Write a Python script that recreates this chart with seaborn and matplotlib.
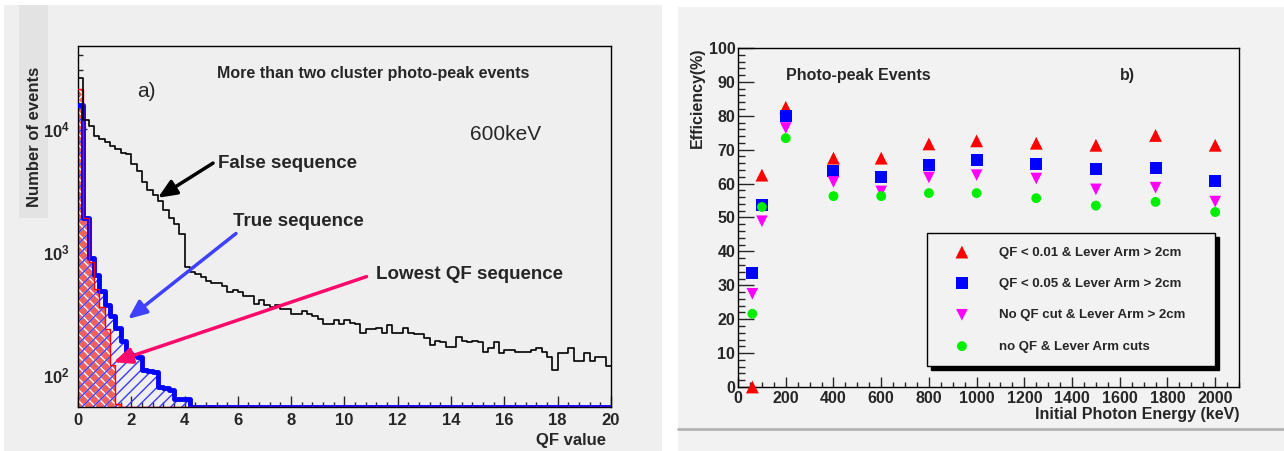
"""
QF distributions (a) and photo-peak efficiency (b)
"""

# Import libraries
import numpy as np
import pandas as pd
import seaborn as sns
import matplotlib as mpl
import matplotlib.pyplot as plt
from matplotlib.patches import Rectangle
from matplotlib.lines import Line2D
from matplotlib.ticker import (FixedLocator, FixedFormatter, LogLocator,
                               MultipleLocator, NullFormatter)

# -------------------------
# Configuration
# -------------------------
sns.set_style("ticks")
mpl.rcParams['font.family'] = ['Liberation Sans', 'DejaVu Sans']
mpl.rcParams['font.weight'] = 'bold'
mpl.rcParams['axes.labelweight'] = 'bold'
mpl.rcParams['mathtext.fontset'] = 'custom'
mpl.rcParams['mathtext.rm'] = 'Liberation Sans'
mpl.rcParams['mathtext.bf'] = 'Liberation Sans:bold'
mpl.rcParams['hatch.linewidth'] = 1.0

# -------------------------
# Data (a): QF value histograms, bins of 0.2 from 0 to 20
# -------------------------
qf_edges = np.linspace(0, 20, 101)
qf_centers = qf_edges[:-1] + 0.1

false_seq = [25700, 11700, 10500, 8700, 8300, 7800, 7200, 6800, 6300, 6200,
             5200, 4500, 3700, 3200, 2900, 2600, 2200, 1900, 1700, 1400,
             760, 690, 660, 630, 575, 560, 560, 525, 470, 490,
             470, 440, 440, 380, 410, 370, 355, 370, 345, 345,
             315, 315, 330, 315, 300, 285, 260, 260, 280, 260,
             280, 265, 260, 220, 235, 235, 240, 220, 255, 220,
             220, 240, 220, 215, 215, 200, 175, 190, 185, 170,
             170, 205, 190, 185, 190, 185, 155, 165, 185, 150,
             160, 160, 155, 155, 155, 160, 165, 155, 140, 110,
             150, 150, 165, 130, 130, 150, 130, 140, 140, 118]
true_seq = [15500, 1900, 900, 650, 480, 370, 300, 240, 190, 150,
            145, 140, 110, 108, 105, 80, 78, 76, 64, 64, 64] + [0] * 79
lowest_qf = [21000, 1900, 820, 500, 360, 235, 120, 58] + [0] * 92

decade_ticks = [100, 1000, 10000]
decade_labels = [r'$\mathbf{10^{2}}$', r'$\mathbf{10^{3}}$', r'$\mathbf{10^{4}}$']

# -------------------------
# Data (b): efficiency vs initial photon energy
# -------------------------
energy_kev = [60, 100, 200, 400, 600, 800, 1000, 1250, 1500, 1750, 2000]
eff_qf001 = [0.0, 62.5, 82.5, 67.5, 67.5, 71.7, 72.6, 71.9, 71.3, 74.2, 71.3]
eff_qf005 = [33.5, 53.6, 80.0, 63.6, 62.0, 65.5, 66.9, 65.9, 64.2, 64.5, 60.8]
eff_noqf = [27.5, 48.9, 76.4, 60.5, 57.7, 61.8, 62.5, 61.5, 58.3, 58.8, 54.7]
eff_nocut = [21.6, 53.1, 73.4, 56.3, 56.3, 57.2, 57.2, 55.7, 53.5, 54.6, 51.6]
series_labels = ['QF < 0.01 & Lever Arm > 2cm',
                 'QF < 0.05 & Lever Arm > 2cm',
                 'No QF cut & Lever Arm > 2cm',
                 'no QF & Lever Arm cuts']

# -------------------------
# Figure
# -------------------------
fig = plt.figure(figsize=(12.84, 4.51), dpi=100)
fig.patch.set_facecolor('white')

# Panel backgrounds (ROOT canvases)
fig.patches.append(Rectangle((0.0031, 0.0), 0.5125, 0.989, transform=fig.transFigure,
                             facecolor='#efefef', edgecolor='none', zorder=-3))
fig.patches.append(Rectangle((0.0148, 0.5166), 0.0226, 0.472, transform=fig.transFigure,
                             facecolor='#e3e3e3', edgecolor='none', zorder=-2))
fig.patches.append(Rectangle((0.528, 0.0), 0.472, 0.9845, transform=fig.transFigure,
                             facecolor='#f2f2f2', edgecolor='none', zorder=-3))
fig.lines.append(Line2D([0.528, 1.0], [0.0488, 0.0488], transform=fig.transFigure,
                        color='#b4b4b4', lw=2, zorder=-1))

ax1 = fig.add_axes([0.0607, 0.0976, 0.4151, 0.8004], zorder=1)
ax2 = fig.add_axes([0.5748, 0.1419, 0.3902, 0.7517], zorder=1)

# -------------------------
# Panel a)
# -------------------------
y_floor = 55
ax1.set_facecolor('#efefef')

hist = pd.DataFrame({'qf': qf_centers,
                     'false_seq': false_seq,
                     'true_seq': np.clip(true_seq, y_floor, None),
                     'lowest_qf': np.clip(lowest_qf, y_floor, None)})
bin_list = list(qf_edges)

# Filled areas: red/white check for lowest QF, blue diagonal hatch for true
ax1.stairs(hist['lowest_qf'], qf_edges, baseline=y_floor, fill=True,
           facecolor='#f0605c', edgecolor='none', zorder=1)
ax1.stairs(hist['lowest_qf'], qf_edges, baseline=y_floor, fill=True,
           facecolor='none', edgecolor='white', hatch='xxx', linewidth=0, zorder=1.5)
ax1.stairs(hist['true_seq'], qf_edges, baseline=y_floor, fill=True,
           facecolor='none', edgecolor='#3a3aff', hatch='///', linewidth=0, zorder=2)

# Outlines
sns.histplot(data=hist, x='qf', weights='true_seq', bins=bin_list, element='step',
             fill=False, color='#0000ff', linewidth=3.5, ax=ax1, zorder=3)
sns.histplot(data=hist, x='qf', weights='lowest_qf', bins=bin_list, element='step',
             fill=False, color='#ff0000', linewidth=1.0, ax=ax1, zorder=4)
sns.histplot(data=hist, x='qf', weights='false_seq', bins=bin_list, element='step',
             fill=False, color='black', linewidth=1.2, ax=ax1, zorder=5)

ax1.set_yscale('log')
ax1.set_xlim(0, 20)
ax1.set_ylim(y_floor, 47000)
ax1.xaxis.set_major_locator(MultipleLocator(2))
ax1.xaxis.set_minor_locator(MultipleLocator(0.4))
ax1.yaxis.set_major_locator(FixedLocator(decade_ticks))
ax1.yaxis.set_major_formatter(FixedFormatter(decade_labels))
ax1.yaxis.set_minor_locator(LogLocator(base=10, subs=np.arange(2, 10)))
ax1.yaxis.set_minor_formatter(NullFormatter())
ax1.tick_params(axis='x', which='major', direction='in', length=8, width=1,
                labelsize=12, pad=4)
ax1.tick_params(axis='x', which='minor', direction='in', length=3.6, width=1)
ax1.tick_params(axis='y', which='major', direction='in', length=6.5, width=1,
                labelsize=12, pad=6)
ax1.tick_params(axis='y', which='minor', direction='in', length=3.6, width=1)
for s in ax1.spines.values():
    s.set_color('black')
    s.set_linewidth(1)

ax1.set_xlabel('QF value', fontsize=12, loc='right')
ax1.xaxis.set_label_coords(0.9906, -0.072)
ax1.set_ylabel('Number of events', fontsize=12)
ax1.yaxis.set_label_coords(-0.0675, 0.748)

# Texts and arrows
ax1.text(2.58, 20000, 'a)', fontsize=15, fontweight='normal', ha='center', va='center')
ax1.text(5.2, 28000, 'More than two cluster photo-peak events', fontsize=11.5,
         ha='left', va='center')
ax1.text(14.7, 8900, '600keV', fontsize=15, fontweight='normal', ha='left', va='center')
ax1.text(5.27, 5260, 'False sequence', fontsize=13.5, ha='left', va='center')
ax1.text(5.81, 1770, 'True sequence', fontsize=13.5, ha='left', va='center')
ax1.text(11.2, 650, 'Lowest QF sequence', fontsize=13.5, ha='left', va='center')

arrow_style = '-|>,head_length=0.7,head_width=0.3'
ax1.annotate('', xy=(3.0, 2750), xytext=(5.07, 5260),
             arrowprops=dict(arrowstyle=arrow_style, color='black', lw=2.5,
                             shrinkA=0, shrinkB=0, mutation_scale=16), zorder=6)
ax1.annotate('', xy=(1.88, 285), xytext=(5.93, 1410),
             arrowprops=dict(arrowstyle=arrow_style, color='#4040ff', lw=2.5,
                             shrinkA=0, shrinkB=0, mutation_scale=16), zorder=6)
ax1.annotate('', xy=(1.33, 127), xytext=(10.83, 630),
             arrowprops=dict(arrowstyle=arrow_style, color='#ff0a6a', lw=2.5,
                             shrinkA=0, shrinkB=0, mutation_scale=16), zorder=6)

# -------------------------
# Panel b)
# -------------------------
ax2.set_facecolor('#f2f2f2')
styles = [(eff_qf001, '^', '#ff0000', 85),
          (eff_qf005, 's', '#0000ff', 75),
          (eff_noqf, 'v', '#ff00ff', 70),
          (eff_nocut, 'o', '#00ee00', 50)]
for (vals, mk, col, size), lab in zip(styles, series_labels):
    sns.scatterplot(x=energy_kev, y=vals, marker=mk, color=col, s=size,
                    edgecolor='none', label=lab, ax=ax2, clip_on=False, zorder=3)

ax2.set_xlim(0, 2100)
ax2.set_ylim(0, 100)
ax2.xaxis.set_major_locator(MultipleLocator(200))
ax2.xaxis.set_minor_locator(MultipleLocator(50))
ax2.yaxis.set_major_locator(MultipleLocator(10))
ax2.yaxis.set_minor_locator(MultipleLocator(2))
ax2.tick_params(axis='x', which='major', direction='in', length=7, width=1,
                labelsize=11.5, pad=3)
ax2.tick_params(axis='x', which='minor', direction='in', length=3.6, width=1)
ax2.tick_params(axis='y', which='major', direction='in', length=11.5, width=1,
                labelsize=11.5, pad=2)
ax2.tick_params(axis='y', which='minor', direction='in', length=5, width=1)
for s in ax2.spines.values():
    s.set_color('black')
    s.set_linewidth(1)

ax2.set_xlabel('Initial Photon Energy (keV)', fontsize=11.5, loc='right')
ax2.xaxis.set_label_coords(1.0, -0.06)
ax2.set_ylabel('Efficiency(%)', fontsize=11.5, loc='top')
ax2.yaxis.set_label_coords(-0.066, 1.0)

ax2.text(201, 91.9, 'Photo-peak Events', fontsize=11.5, ha='left', va='center')
ax2.text(1602, 92, 'b)', fontsize=11.5, ha='left', va='center')

handles, labels = ax2.get_legend_handles_labels()
leg = ax2.legend(handles, labels, loc='upper left', bbox_to_anchor=(0.377, 0.454, 0.575, 0.0),
                 mode='expand', prop={'weight': 'bold', 'size': 9.5},
                 fancybox=False, framealpha=1, facecolor='#f2f2f2', edgecolor='black',
                 borderpad=1.0, labelspacing=1.45, handlelength=3.3, handletextpad=1.2,
                 borderaxespad=0,
                 shadow={'ox': 3, 'oy': -3, 'color': 'black', 'alpha': 1})
leg.get_frame().set_linewidth(1)

fig.savefig('out.png', dpi=100, facecolor=fig.get_facecolor())
